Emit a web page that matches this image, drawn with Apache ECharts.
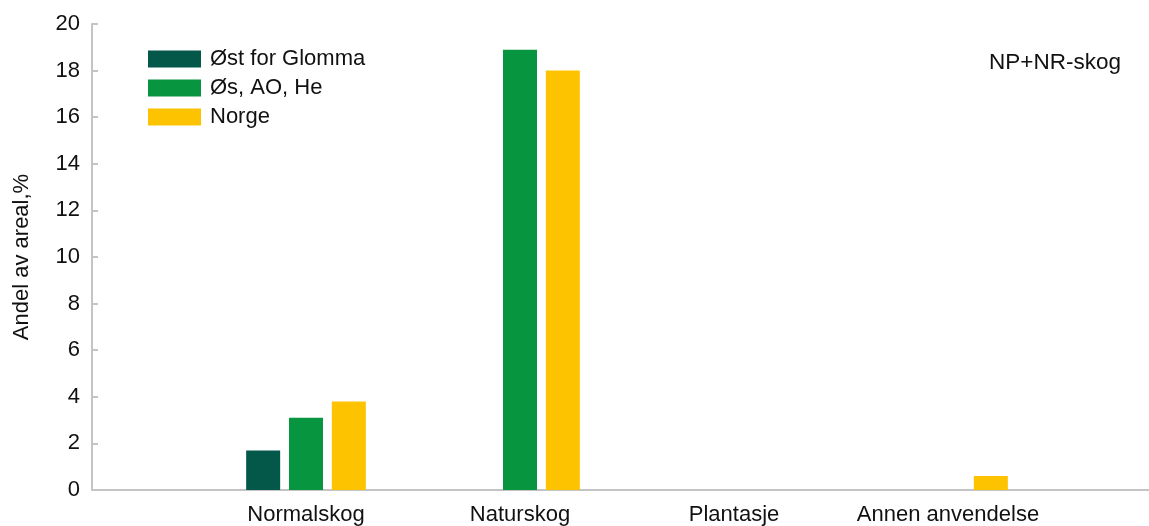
<!DOCTYPE html>
<html><head><meta charset="utf-8">
<script src="https://cdn.jsdelivr.net/npm/echarts@6/dist/echarts.min.js"></script>
<style>html,body{margin:0;padding:0;background:#fff}#c{width:1149px;height:526px}</style>
</head><body><div id="c"></div>
<script>
const categories = ['', 'Normalskog', 'Naturskog', 'Plantasje', 'Annen anvendelse', ''];
const seriesNames = ['Øst for Glomma', 'Øs, AO, He', 'Norge'];
const ostForGlomma = [null, 1.7, null, null, null, null];
const osAoHe = [null, 3.1, 18.9, null, null, null];
const norge = [null, 3.8, 18.0, null, 0.6, null];
const yTicks = { min: 0, max: 20, interval: 2 };
const yTitle = 'Andel av areal,%';
const note = 'NP+NR-skog';

const colors = ['#03584a', '#07963f', '#fdc300'];
const font = 'Liberation Sans, Arial, sans-serif';
const chart = echarts.init(document.getElementById('c'));
const values = [ostForGlomma, osAoHe, norge];
chart.setOption({
  animation: false,
  textStyle: { fontFamily: font },
  title: { text: note, right: 23, top: 46, textStyle: { fontFamily: font, fontSize: 22.5, fontWeight: 'normal', color: '#111' } },
  legend: {
    orient: 'vertical', left: 143, top: 43, itemWidth: 53, itemHeight: 17, itemGap: 7,
    icon: 'rect',
    textStyle: { fontFamily: font, fontSize: 22, color: '#111', padding: [0, 0, 0, 4] },
    data: seriesNames
  },
  grid: { left: 92, right: -13, top: 24, bottom: 36, containLabel: false, outerBoundsMode: 'none' },
  xAxis: {
    type: 'category', data: categories, boundaryGap: false,
    axisLine: { lineStyle: { color: '#c4c4c4', width: 2 } },
    axisTick: { show: false },
    axisLabel: { color: '#111', fontSize: 22, fontFamily: font, margin: 14, interval: 0 }
  },
  yAxis: {
    type: 'value', min: yTicks.min, max: yTicks.max, interval: yTicks.interval,
    name: yTitle, nameLocation: 'middle', nameGap: 59, nameRotate: 90,
    nameTextStyle: { color: '#111', fontSize: 22, fontFamily: font },
    axisLine: { show: true, lineStyle: { color: '#c4c4c4', width: 2 } },
    axisTick: { show: true, inside: true, length: 6, lineStyle: { color: '#c4c4c4', width: 2 } },
    axisLabel: { color: '#111', fontSize: 22, fontFamily: font, margin: 12 },
    splitLine: { show: false }
  },
  series: seriesNames.map((n, i) => ({
    name: n, type: 'bar', data: values[i], barWidth: 34, barGap: '26%',
    itemStyle: { color: colors[i] }
  }))
});
</script></body></html>
